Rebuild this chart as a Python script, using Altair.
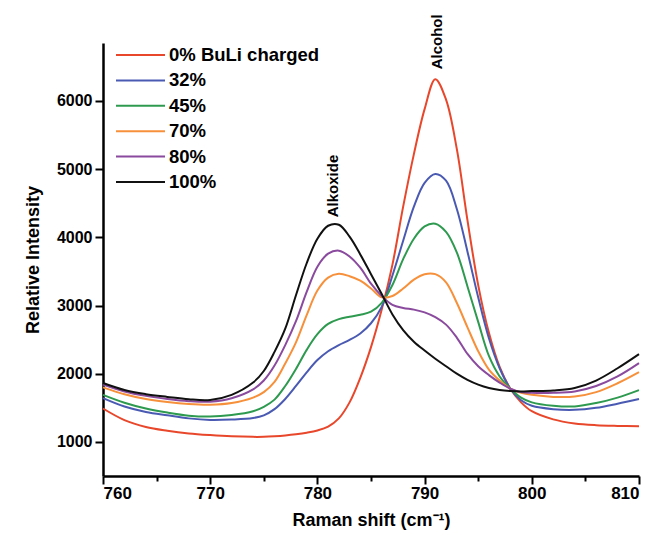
import altair as alt
import pandas as pd

# Raman shift positions (cm^-1)
shift = [760, 762, 764, 766, 768, 770, 772, 774, 775, 776, 777, 778, 779, 780,
         781, 782, 783, 784, 785, 786, 787, 788, 789, 790, 791, 792, 793, 794,
         795, 796, 797, 798, 799, 800, 802, 804, 806, 808, 810]

series_names = ["0% BuLi charged", "32%", "45%", "70%", "80%", "100%"]
series_colors = ["#E8472B", "#4A5AB3", "#2E9A50", "#F7903A", "#8A4A9E", "#111111"]

red_0 = [1490, 1320, 1220, 1165, 1125, 1100, 1082, 1074, 1075, 1083, 1095, 1112, 1135, 1168,
         1225, 1345, 1580, 1940, 2390, 2940, 3600, 4450, 5220, 5880, 6320, 6020, 5300, 4250,
         3300, 2600, 2100, 1780, 1580, 1450, 1330, 1270, 1245, 1235, 1230]
blue_32 = [1643, 1520, 1440, 1390, 1345, 1322, 1328, 1350, 1390, 1480, 1630, 1820, 2020, 2200,
           2330, 2420, 2495, 2590, 2740, 2980, 3440, 3950, 4450, 4800, 4930, 4830, 4420, 3790,
           3120, 2520, 2080, 1780, 1610, 1530, 1480, 1470, 1500, 1560, 1628]
green_45 = [1690, 1575, 1490, 1430, 1385, 1372, 1395, 1450, 1515, 1620, 1820, 2070, 2350, 2580,
            2730, 2800, 2835, 2865, 2910, 3040, 3300, 3680, 3980, 4160, 4200, 4080, 3780, 3280,
            2760, 2260, 1960, 1780, 1650, 1580, 1530, 1520, 1570, 1650, 1760]
orange_70 = [1800, 1700, 1630, 1585, 1555, 1545, 1570, 1650, 1730, 1880, 2150, 2460, 2860, 3220,
             3410, 3465, 3430, 3365, 3250, 3120, 3140, 3250, 3380, 3460, 3460, 3340, 3040, 2680,
             2330, 2060, 1900, 1780, 1720, 1690, 1660, 1665, 1730, 1860, 2023]
purple_80 = [1840, 1740, 1675, 1630, 1598, 1590, 1640, 1770, 1900, 2120, 2420, 2770, 3200, 3570,
             3760, 3805, 3720, 3555, 3320, 3140, 3010, 2965, 2940, 2900, 2830, 2720, 2530, 2290,
             2110, 1980, 1870, 1780, 1730, 1720, 1720, 1740, 1820, 1960, 2155]
black_100 = [1863, 1760, 1700, 1660, 1625, 1615, 1690, 1870, 2040, 2320, 2660, 3150, 3620, 3980,
             4170, 4185, 4010, 3750, 3460, 3170, 2870, 2640, 2470, 2340, 2220, 2110, 2000, 1910,
             1840, 1790, 1760, 1745, 1740, 1745, 1755, 1790, 1900, 2080, 2287]

series_values = [red_0, blue_32, green_45, orange_70, purple_80, black_100]

peak_labels = ["Alkoxide", "Alcohol"]
peak_x = [781.5, 791.2]
peak_y = [4250, 6420]

y_ticks = list(range(1000, 7000, 500))
x_ticks = list(range(760, 815, 5))

rows = []
for name, vals in zip(series_names, series_values):
    for x, v in zip(shift, vals):
        rows.append({"shift": x, "intensity": v, "series": name})
df = pd.DataFrame(rows)
leg_df = pd.DataFrame({"series": series_names})
ann_df = pd.DataFrame({"label": peak_labels, "shift": peak_x, "intensity": peak_y})

FONT = "Liberation Sans"

color = alt.Color("series:N", scale=alt.Scale(domain=series_names, range=series_colors),
                  legend=None)

x_enc = alt.X("shift:Q",
              scale=alt.Scale(domain=[760, 810], nice=False, zero=False),
              axis=alt.Axis(values=x_ticks, title="Raman shift (cm⁻¹)",
                            labelExpr="datum.value % 10 === 0 ? datum.label : ''",
                            tickSize={"condition": {"test": "datum.value % 10 === 0", "value": 8}, "value": 5},
                            grid=False, labelFontSize=17, labelFontWeight="bold",
                            titleFontSize=18, titleFontWeight="bold", titlePadding=10,
                            domainWidth=2.5, tickWidth=2, domainColor="black",
                            tickColor="black", labelColor="black", titleColor="black",
                            labelPadding=1))
y_enc = alt.Y("intensity:Q",
              scale=alt.Scale(domain=[500, 6850], nice=False, zero=False),
              axis=alt.Axis(values=y_ticks, title="Relative Intensity",
                            labelExpr="datum.value % 1000 === 0 ? datum.label : ''",
                            tickSize={"condition": {"test": "datum.value % 1000 === 0", "value": 8}, "value": 5},
                            format="d",
                            grid=False, labelFontSize=16, labelFontWeight="bold",
                            titleFontSize=18, titleFontWeight="bold", titlePadding=14,
                            domainWidth=2.5, tickWidth=2, domainColor="black",
                            tickColor="black", labelColor="black", titleColor="black",
                            labelPadding=3))

lines = alt.Chart(df).mark_line(strokeWidth=2, interpolate="catmull-rom").encode(
    x=x_enc, y=y_enc, color=color, detail="series:N"
)

ann = alt.Chart(ann_df).mark_text(angle=270, align="left", baseline="middle",
                                  font=FONT, fontSize=15, fontWeight="bold",
                                  color="black", dx=3).encode(
    x="shift:Q", y="intensity:Q", text="label:N"
)

main = alt.layer(lines, ann)

leg_y = alt.Y("series:N", sort=series_names,
              scale=alt.Scale(type="point", range=[12, 139], padding=0), axis=None)
leg_lines = alt.Chart(leg_df).mark_rule(strokeWidth=2).encode(
    x=alt.value(13), x2=alt.value(62), y=leg_y, color=color
)
leg_text = alt.Chart(leg_df).mark_text(align="left", baseline="middle", font=FONT,
                                       fontSize=18.5, fontWeight="bold", color="black").encode(
    x=alt.value(66), y=leg_y, text="series:N"
)
legend = alt.layer(leg_lines, leg_text)

chart = alt.layer(main, legend).resolve_scale(y="independent").properties(
    width=536, height=433,
    autosize=alt.AutoSizeParams(type="none"),
    padding={"left": 103, "top": 43, "right": 14, "bottom": 64},
).configure(font=FONT).configure_view(stroke=None)

chart.save("out.html", embed_options={"renderer": "svg", "actions": False})
